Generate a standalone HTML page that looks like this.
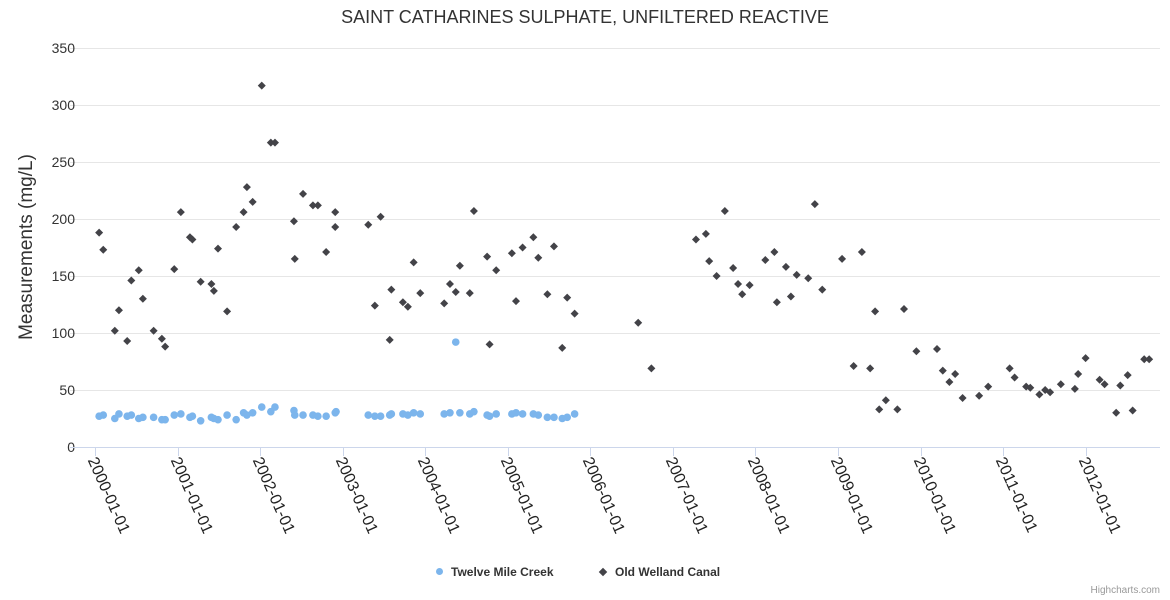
<!DOCTYPE html>
<html><head><meta charset="utf-8"><style>
body{margin:0;background:#fff;font-family:"Liberation Sans",sans-serif}
svg{display:block}
</style></head><body>
<svg id="chart" width="1170" height="600"></svg>
<script>
const welTimes=[0.05,0.10,0.24,0.29,0.39,0.44,0.53,0.58,0.71,0.81,0.85,0.96,1.04,1.15,1.18,1.28,1.41,1.44,1.49,1.60,1.71,1.80,1.84,1.91,2.02,2.13,2.18,2.41,2.42,2.52,2.64,2.70,2.80,2.91,2.91,3.31,3.39,3.46,3.57,3.59,3.73,3.79,3.86,3.94,4.23,4.30,4.37,4.42,4.54,4.59,4.75,4.78,4.86,5.05,5.10,5.18,5.31,5.37,5.48,5.56,5.66,5.72,5.81,6.58,6.74,7.28,7.40,7.44,7.53,7.63,7.73,7.79,7.84,7.93,8.12,8.23,8.26,8.37,8.43,8.50,8.64,8.72,8.81,9.05,9.19,9.29,9.39,9.45,9.50,9.58,9.72,9.80,9.95,10.20,10.27,10.35,10.42,10.51,10.71,10.82,11.08,11.14,11.28,11.33,11.44,11.51,11.57,11.70,11.87,11.91,12.00,12.17,12.23,12.37,12.42,12.51,12.57,12.71,12.77];
const welValues=[188,173,102,120,93,146,155,130,102,95,88,156,206,184,182,145,143,137,174,119,193,206,228,215,317,267,267,198,165,222,212,212,171,193,206,195,124,202,94,138,127,123,162,135,126,143,136,159,135,207,167,90,155,170,128,175,184,166,134,176,87,131,117,109,69,182,187,163,150,207,157,143,134,142,164,171,127,158,132,151,148,213,138,165,71,171,69,119,33,41,33,121,84,86,67,57,64,43,45,53,69,61,53,52,46,50,48,55,51,64,78,59,55,30,54,63,32,77,77];
const tmcTimes=[0.05,0.10,0.24,0.29,0.39,0.44,0.53,0.58,0.71,0.81,0.85,0.96,1.04,1.15,1.18,1.28,1.41,1.44,1.49,1.60,1.71,1.80,1.84,1.91,2.02,2.13,2.18,2.41,2.42,2.52,2.64,2.70,2.80,2.91,2.92,3.31,3.39,3.46,3.57,3.59,3.73,3.79,3.86,3.94,4.23,4.30,4.37,4.42,4.54,4.59,4.75,4.78,4.86,5.05,5.10,5.18,5.31,5.37,5.48,5.56,5.66,5.72,5.81];
const tmcValues=[27,28,25,29,27,28,25,26,26,24,24,28,29,26,27,23,26,25,24,28,24,30,28,30,35,31,35,32,28,28,28,27,27,30,31,28,27,27,28,29,29,28,30,29,29,30,92,30,29,31,28,27,29,29,30,29,29,28,26,26,25,26,29];
const yTicks=[0,50,100,150,200,250,300,350];
const xYears=[2000,2001,2002,2003,2004,2005,2006,2007,2008,2009,2010,2011,2012];

const NS="http://www.w3.org/2000/svg";
const svg=document.getElementById('chart');
const X0=95,PXY=82.55,Y0=447,PXV=399/350;
const xs=t=>X0+t*PXY;
const ys=v=>Y0-v*PXV;
function mk(tag,attrs,parent){const e=document.createElementNS(NS,tag);for(const k in attrs)e.setAttribute(k,attrs[k]);(parent||svg).appendChild(e);return e;}

const grid=mk('g',{});


yTicks.forEach(v=>{
  if(v>0){const l=mk('line',{x1:70,x2:1160,y1:ys(v)+0.5,y2:ys(v)+0.5,stroke:'#e6e6e6'},grid);
  
  }
  const t=mk('text',{x:75,y:ys(v)+5,'text-anchor':'end','font-size':'14',fill:'#333'});
  t.textContent=v;
  
  
});
const axl=mk('line',{x1:70,x2:1160,y1:447.5,y2:447.5,stroke:'#ccd6eb'});


xYears.forEach(y=>{
  const x=Math.round(xs(y-2000))+0.5;
  const tk=mk('line',{x1:x,x2:x,y1:447,y2:456,stroke:'#ccd6eb'});
  
  
  const ax=x-8,ay=460;
  const t=mk('text',{x:ax,y:ay,'font-size':'16',fill:'#222',transform:`rotate(66 ${ax} ${ay})`});
  t.textContent=y+'-01-01';
  
  
});
const gT=mk('g',{fill:'#7cb5ec'});


tmcTimes.forEach((t,i)=>{
  const c=mk('circle',{cx:xs(t),cy:ys(tmcValues[i]),r:3.8},gT);
  
  
});
const gW=mk('g',{fill:'#434348'});


welTimes.forEach((t,i)=>{
  const x=xs(t),y=ys(welValues[i]);
  const p=mk('path',{d:`M${x} ${y-4}L${x+4} ${y}L${x} ${y+4}L${x-4} ${y}Z`},gW);
  
  
});
</script>
<div style="position:absolute;left:0;top:7px;width:1170px;text-align:center;font-size:18px;color:#333">SAINT CATHARINES SULPHATE, UNFILTERED REACTIVE</div>
<div style="position:absolute;left:27px;top:247px;transform:translate(-50%,-50%) rotate(-90deg);white-space:nowrap;font-size:19px;color:#333">Measurements (mg/L)</div>
<div style="position:absolute;left:436px;top:565px;font-size:12px;font-weight:bold;color:#333;white-space:nowrap"><span style="display:inline-block;width:7px;height:7px;border-radius:50%;background:#7cb5ec;margin-right:8px;vertical-align:1px"></span>Twelve Mile Creek</div>
<div style="position:absolute;left:600px;top:565px;font-size:12px;font-weight:bold;color:#333;white-space:nowrap"><span style="display:inline-block;width:6px;height:6px;background:#434348;transform:rotate(45deg);margin-right:9px;vertical-align:1px"></span>Old Welland Canal</div>
<div style="position:absolute;right:10px;top:585px;font-size:10px;color:#999">Highcharts.com</div>
</body></html>
